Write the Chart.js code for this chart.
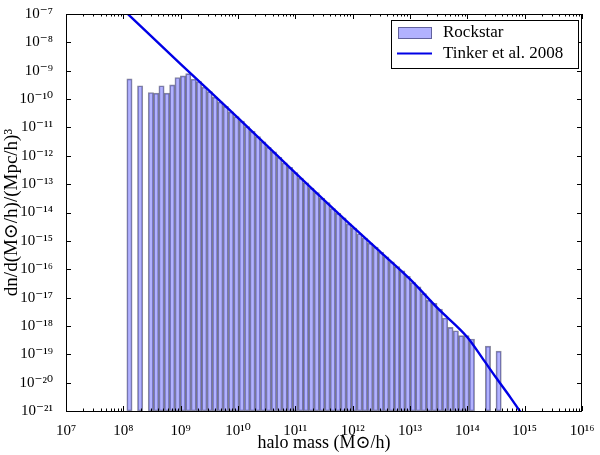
<!DOCTYPE html>
<html>
<head>
<meta charset="utf-8">
<title>halo mass function</title>
<script src="https://cdn.jsdelivr.net/npm/chart.js@4.4.1/dist/chart.umd.min.js"></script>
<style>
html, body { margin: 0; padding: 0; background: #fff; }
canvas { display: block; }
</style>
</head>
<body>
<canvas id="hmfChart" width="600" height="455"></canvas>
<script>
// log10 of the Rockstar bin centres (0.0933 dex bins, empty bins left out)
var rockstarBinsLog = [8.107, 8.293, 8.480, 8.573, 8.666, 8.760, 8.853, 8.946, 9.040, 9.133,
    9.226, 9.320, 9.413, 9.506, 9.600, 9.693, 9.786, 9.880, 9.973, 10.066,
    10.160, 10.253, 10.346, 10.440, 10.533, 10.626, 10.720, 10.813, 10.906, 11.000,
    11.093, 11.186, 11.280, 11.373, 11.466, 11.560, 11.653, 11.746, 11.840, 11.933,
    12.026, 12.120, 12.213, 12.306, 12.400, 12.493, 12.586, 12.680, 12.773, 12.866,
    12.960, 13.053, 13.146, 13.240, 13.333, 13.426, 13.520, 13.613, 13.706, 13.800,
    13.893, 13.986, 14.080, 14.360, 14.546];
var rockstarDn = [5.13e-10, 2.95e-10, 1.70e-10, 1.62e-10, 2.95e-10, 1.62e-10, 3.16e-10, 5.75e-10, 6.61e-10, 7.94e-10,
    5.01e-10, 4.17e-10, 2.63e-10, 1.82e-10, 1.17e-10, 7.94e-11, 5.50e-11, 3.55e-11, 2.40e-11, 1.66e-11,
    1.07e-11, 7.24e-12, 4.79e-12, 3.09e-12, 2.00e-12, 1.38e-12, 8.91e-13, 5.62e-13, 3.89e-13, 2.57e-13,
    1.62e-13, 1.12e-13, 7.24e-14, 5.01e-14, 3.16e-14, 2.24e-14, 1.38e-14, 9.33e-15, 6.46e-15, 3.98e-15,
    2.82e-15, 1.78e-15, 1.26e-15, 8.32e-16, 6.03e-16, 3.98e-16, 2.75e-16, 1.82e-16, 1.23e-16, 8.71e-17,
    5.62e-17, 3.39e-17, 2.40e-17, 1.38e-17, 8.13e-18, 6.31e-18, 3.89e-18, 1.91e-18, 8.91e-19, 6.76e-19,
    4.57e-19, 4.57e-19, 3.47e-19, 1.95e-19, 1.29e-19];

// Tinker et al. 2008 curve
var tinkerMass = [1e8, 1e9, 1e10, 1e11, 1e12, 3.16e12, 1e13, 3.16e13, 1e14, 1.78e14, 3.16e14, 5.62e14, 1e15];
var tinkerDn = [1.41e-7, 1.70e-9, 2.19e-11, 2.51e-13, 3.16e-15, 3.80e-16, 4.47e-17, 3.89e-18, 3.98e-19, 7.94e-20, 1.51e-20, 3.02e-21, 5.62e-22];

var xTicks = [1e7, 1e8, 1e9, 1e10, 1e11, 1e12, 1e13, 1e14, 1e15, 1e16];
var yTicks = [1e-21, 1e-20, 1e-19, 1e-18, 1e-17, 1e-16, 1e-15, 1e-14, 1e-13, 1e-12, 1e-11, 1e-10, 1e-9, 1e-8, 1e-7];

var supMap = {'-': '\u207b', '0': '\u2070', '1': '\u00b9', '2': '\u00b2', '3': '\u00b3', '4': '\u2074',
    '5': '\u2075', '6': '\u2076', '7': '\u2077', '8': '\u2078', '9': '\u2079'};
var pow10Label = function(v) {
    var e = String(Math.round(Math.log10(v)));
    return '10' + e.split('').map(function(c) { return supMap[c]; }).join('');
};

var serif = '"Liberation Serif", "DejaVu Serif", serif';
var barFill = 'rgba(0,0,255,0.3)',
    barEdge = 'rgba(0,0,40,0.45)',
    lineCol = '#0000e6';

// frame, inward ticks (matplotlib style) and the legend box
var axesDeco = {
    id: 'axesDeco',
    afterDraw: function(chart) {
        var ctx = chart.ctx, a = chart.chartArea,
            xs = chart.scales.x, ys = chart.scales.y;
        ctx.save();
        ctx.strokeStyle = '#000';
        ctx.lineWidth = 1;
        ctx.beginPath();
        xTicks.forEach(function(t) {
            var px = Math.round(xs.getPixelForValue(t)) + 0.5;
            ctx.moveTo(px, a.bottom); ctx.lineTo(px, a.bottom - 5);
            ctx.moveTo(px, a.top); ctx.lineTo(px, a.top + 5);
        });
        for (var e = 7; e < 16; e++) {
            for (var m = 2; m < 10; m++) {
                var px = Math.round(xs.getPixelForValue(m * Math.pow(10, e))) + 0.5;
                ctx.moveTo(px, a.bottom); ctx.lineTo(px, a.bottom - 2.5);
                ctx.moveTo(px, a.top); ctx.lineTo(px, a.top + 2.5);
            }
        }
        yTicks.forEach(function(t) {
            var py = Math.round(ys.getPixelForValue(t)) + 0.5;
            ctx.moveTo(a.left, py); ctx.lineTo(a.left + 5, py);
            ctx.moveTo(a.right, py); ctx.lineTo(a.right - 5, py);
        });
        ctx.stroke();
        ctx.strokeRect(a.left + 0.5, a.top + 0.5, a.right - a.left - 1, a.bottom - a.top);

        // legend
        var lx = 391, ly = 20, lw = 187, lh = 48;
        ctx.fillStyle = '#fff';
        ctx.fillRect(lx, ly, lw, lh);
        ctx.strokeRect(lx + 0.5, ly + 0.5, lw, lh);
        ctx.fillStyle = barFill;
        ctx.fillRect(398, 27, 34, 12);
        ctx.strokeStyle = barEdge;
        ctx.strokeRect(398.5, 27.5, 33, 11);
        ctx.strokeStyle = lineCol;
        ctx.lineWidth = 2;
        ctx.beginPath();
        ctx.moveTo(397, 53.5); ctx.lineTo(432, 53.5);
        ctx.stroke();
        ctx.fillStyle = '#000';
        ctx.font = '17px ' + serif;
        ctx.textBaseline = 'middle';
        ctx.fillText('Rockstar', 443, 33);
        ctx.fillText('Tinker et al. 2008', 443, 54);
        ctx.restore();
    }
};

var hmfChart = new Chart(document.getElementById('hmfChart'), {
    type: 'bar',
    data: {
        datasets: [{
            type: 'line',
            label: 'Tinker et al. 2008',
            data: tinkerMass.map(function(m, i) { return {x: m, y: tinkerDn[i]}; }),
            borderColor: lineCol,
            borderWidth: 2.4,
            pointRadius: 0,
            cubicInterpolationMode: 'monotone',
            order: 0
        }, {
            type: 'bar',
            label: 'Rockstar',
            data: rockstarBinsLog.map(function(c, i) { return {x: Math.pow(10, c), y: rockstarDn[i]}; }),
            backgroundColor: barFill,
            borderColor: barEdge,
            borderWidth: 1,
            borderSkipped: false,
            barPercentage: 1,
            categoryPercentage: 1,
            order: 1
        }]
    },
    options: {
        responsive: false,
        animation: false,
        devicePixelRatio: 1,
        layout: { padding: { left: 0, right: 18, top: 11, bottom: 0 } },
        plugins: { legend: { display: false }, tooltip: { enabled: false } },
        scales: {
            x: {
                type: 'logarithmic',
                min: 1e7,
                max: 1e16,
                grid: { display: false },
                border: { display: false },
                afterBuildTicks: function(s) { s.ticks = xTicks.map(function(v) { return {value: v}; }); },
                afterFit: function(s) { s.height = 44; },
                ticks: { callback: pow10Label, autoSkip: false, maxRotation: 0, padding: 3,
                    color: '#000', font: { family: serif, size: 15 } },
                title: { display: true, text: 'halo mass (M\u2299/h)', color: '#000',
                    font: { family: serif, size: 18 }, padding: { top: 0, bottom: 1 } }
            },
            y: {
                type: 'logarithmic',
                min: 1e-21,
                max: 1e-7,
                grid: { display: false },
                border: { display: false },
                afterBuildTicks: function(s) { s.ticks = yTicks.map(function(v) { return {value: v}; }); },
                afterFit: function(s) { s.width = 66; },
                ticks: { callback: pow10Label, autoSkip: false, padding: 5,
                    color: '#000', font: { family: serif, size: 15 } },
                title: { display: true, text: 'dn/d(M\u2299/h)/(Mpc/h)\u00b3', color: '#000',
                    font: { family: serif, size: 19 }, padding: { top: 1, bottom: 0 } }
            }
        }
    },
    plugins: [axesDeco]
});
</script>
</body>
</html>
